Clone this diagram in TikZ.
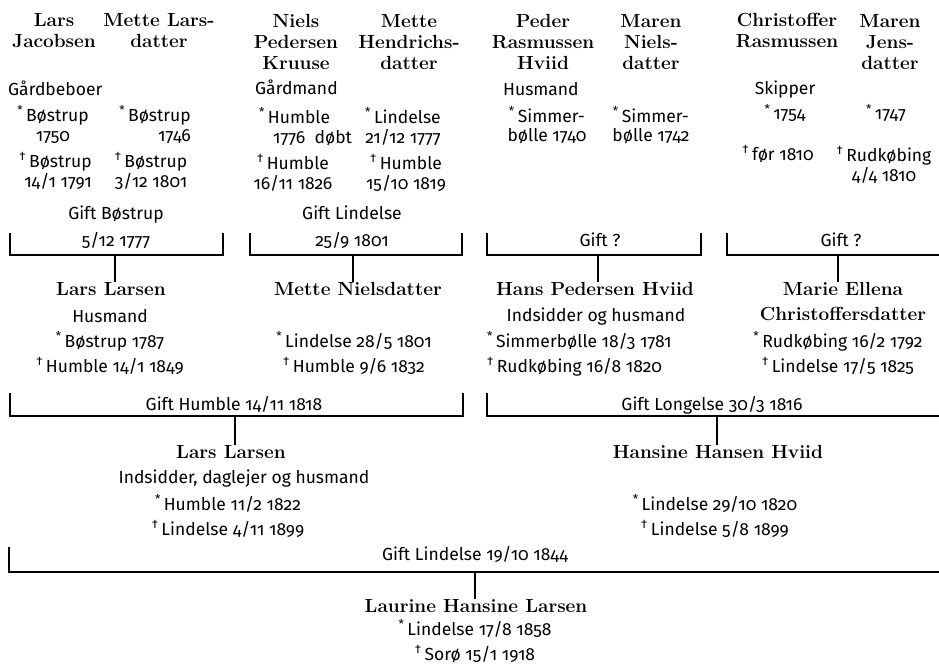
\documentclass[tikz,border=0pt]{standalone}
\usepackage{fontspec}
\setsansfont{Fira Sans}[Numbers=OldStyle]
\usepackage{tikz}
\newcommand{\bornmark}{\textsuperscript{*}\,}
\newcommand{\diedmark}{\textsuperscript{†}\,}

\begin{document}
\begin{tikzpicture}[
  x=1pt,y=-1pt,
  who/.style={font=\rmfamily\bfseries\fontsize{19}{21}\selectfont,align=center,inner sep=0pt,anchor=base},
  who2/.style={who,font=\rmfamily\bfseries\fontsize{19}{25}\selectfont},
  txt/.style={font=\sffamily\fontsize{17.5}{20}\selectfont,align=center,inner sep=0pt,anchor=base},
  txt2/.style={txt,font=\sffamily\fontsize{17.5}{25}\selectfont},
  gift/.style={txt,font=\sffamily\fontsize{17.5}{27}\selectfont},
  bar/.style={line width=2pt}
]
\useasboundingbox (0,0) rectangle (939,666);

% multi-line nodes sit on the baseline of their last line
\node[who] (lj) at (54,48) {Lars\\Jacobsen};
\node[who] (ml) at (159,48) {Mette Lars-\\datter};
\node[who] (np) at (296,70) {Niels\\Pedersen\\Kruuse};
\node[who] (mh) at (409,70) {Mette\\Hendrichs-\\datter};
\node[who] (pr) at (543,70) {Peder\\Rasmussen\\Hviid};
\node[who] (mn) at (651,70) {Maren\\Niels-\\datter};
\node[who] (cr) at (787,48) {Christoffer\\Rasmussen};
\node[who] (mj) at (890,70) {Maren\\Jens-\\datter};

\node[txt,anchor=base west] (lj-occ) at (8,96) {Gårdbeboer};
\node[txt,anchor=base west] (np-occ) at (255,95) {Gårdmand};
\node[txt,anchor=base west] (pr-occ) at (503,96) {Husmand};
\node[txt] (cr-occ) at (785,95) {Skipper};

\node[txt] (lj-b) at (53,141) {\bornmark Bøstrup\\1750};
\node[txt,align=right,anchor=base east] (ml-b) at (191,141) {\bornmark Bøstrup\\1746};
\node[txt,align=left,anchor=base west] (np-b) at (259,143) {\bornmark Humble\\\hspace*{14pt}1776\ \ døbt};
\node[txt] (mh-b) at (403,143) {\bornmark Lindelse\\21/12 1777};
\node[txt] (pr-b) at (547,142) {\bornmark Simmer-\\bølle 1740};
\node[txt] (mn-b) at (651,142) {\bornmark Simmer-\\bølle 1742};
\node[txt] (cr-b) at (785,120) {\bornmark 1754};
\node[txt] (mj-b) at (886,120) {\bornmark 1747};

\node[txt,align=right,anchor=base east] (lj-d) at (92,187) {\diedmark Bøstrup\\14/1 1791};
\node[txt] (ml-d) at (151,187) {\diedmark Bøstrup\\3/12 1801};
\node[txt] (np-d) at (293,189) {\diedmark Humble\\16/11 1826};
\node[txt] (mh-d) at (406,189) {\diedmark Humble\\15/10 1819};
\node[txt] (cr-d) at (778,160) {\diedmark før 1810};
\node[txt] (mj-d) at (884,181) {\diedmark Rudkøbing\\4/4 1810};

\node[gift] (g1) at (116,246) {Gift Bøstrup\\5/12 1777};
\node[gift] (g2) at (352,246) {Gift Lindelse\\25/9 1801};
\node[gift] (g3) at (600,246) {Gift ?};
\node[gift] (g4) at (841,246) {Gift ?};

\coordinate (b1l) at (10,233);  \coordinate (b1m) at (115,255); \coordinate (b1r) at (223,233);
\coordinate (b2l) at (250,233); \coordinate (b2m) at (353,255); \coordinate (b2r) at (462,233);
\coordinate (b3l) at (487,233); \coordinate (b3m) at (598,255); \coordinate (b3r) at (701,233);
\coordinate (b4l) at (727,233); \coordinate (b4m) at (838,255); \coordinate (b4r) at (939,255);

\node[who] (ll) at (111,295) {Lars Larsen};
\node[txt2] (ll-i) at (110,372) {Husmand\\\bornmark Bøstrup 1787\\\diedmark Humble 14/1 1849};
\node[who] (mt) at (358,295) {Mette Nielsdatter};
\node[txt2] (mt-i) at (354,372) {\bornmark Lindelse 28/5 1801\\\diedmark Humble 9/6 1832};
\node[who] (hp) at (595,295) {Hans Pedersen Hviid};
\node[txt2] (hp-occ) at (596,321) {Indsidder og husmand};
\node[txt2,align=left,anchor=base west] (hp-i) at (487,372) {\bornmark Simmerbølle 18/3 1781\\\diedmark Rudkøbing 16/8 1820};
\node[who2] (me) at (843,320) {Marie Ellena\\Christoffersdatter};
\node[txt2] (me-i) at (838,372) {\bornmark Rudkøbing 16/2 1792\\\diedmark Lindelse 17/5 1825};

\node[gift] (g5) at (234,410) {Gift Humble 14/11 1818};
\node[gift] (g6) at (712,410) {Gift Longelse 30/3 1816};

\coordinate (b5l) at (10,393);  \coordinate (b5m) at (235,416); \coordinate (b5r) at (463,393);
\coordinate (b6l) at (487,393); \coordinate (b6m) at (717,416); \coordinate (b6r) at (939,416);

\node[who] (ls) at (231,458) {Lars Larsen};
\node[txt2] (ls-occ) at (244,483) {Indsidder, daglejer og husmand};
\node[txt2] (ls-i) at (228,535) {\bornmark Humble 11/2 1822\\\diedmark Lindelse 4/11 1899};
\node[who] (hh) at (718,458) {Hansine Hansen Hviid};
\node[txt2] (hh-i) at (715,535) {\bornmark Lindelse 29/10 1820\\\diedmark Lindelse 5/8 1899};

\node[gift] (g7) at (475,560) {Gift Lindelse 19/10 1844};
\coordinate (b7l) at (9,547); \coordinate (b7m) at (475,572); \coordinate (b7r) at (939,572);

\node[who] (lh) at (476,612) {Laurine Hansine Larsen};
\node[txt2] (lh-i) at (475,660) {\bornmark Lindelse 17/8 1858\\\diedmark Sorø 15/1 1918};

\draw[bar] (b1l) |- (b1m) -| (b1r);
\draw[bar] (b2l) |- (b2m) -| (b2r);
\draw[bar] (b3l) |- (b3m) -| (b3r);
\draw[bar] (b4l) |- (b4m) -- (b4r);
\draw[bar] (b5l) |- (b5m) -| (b5r);
\draw[bar] (b6l) |- (b6m) -- (b6r);
\draw[bar] (b7l) |- (b7m) -- (b7r);

\draw[bar] (b1m) -- (b1m |- ll.north);
\draw[bar] (b2m) -- (b2m |- mt.north);
\draw[bar] (b3m) -- (b3m |- hp.north);
\draw[bar] (b4m) -- (b4m |- me.north);
\draw[bar] (b5m) -- (b5m |- ls.north);
\draw[bar] (b6m) -- (b6m |- hh.north);
\draw[bar] (b7m) -- (b7m |- lh.north);
\end{tikzpicture}
\end{document}
